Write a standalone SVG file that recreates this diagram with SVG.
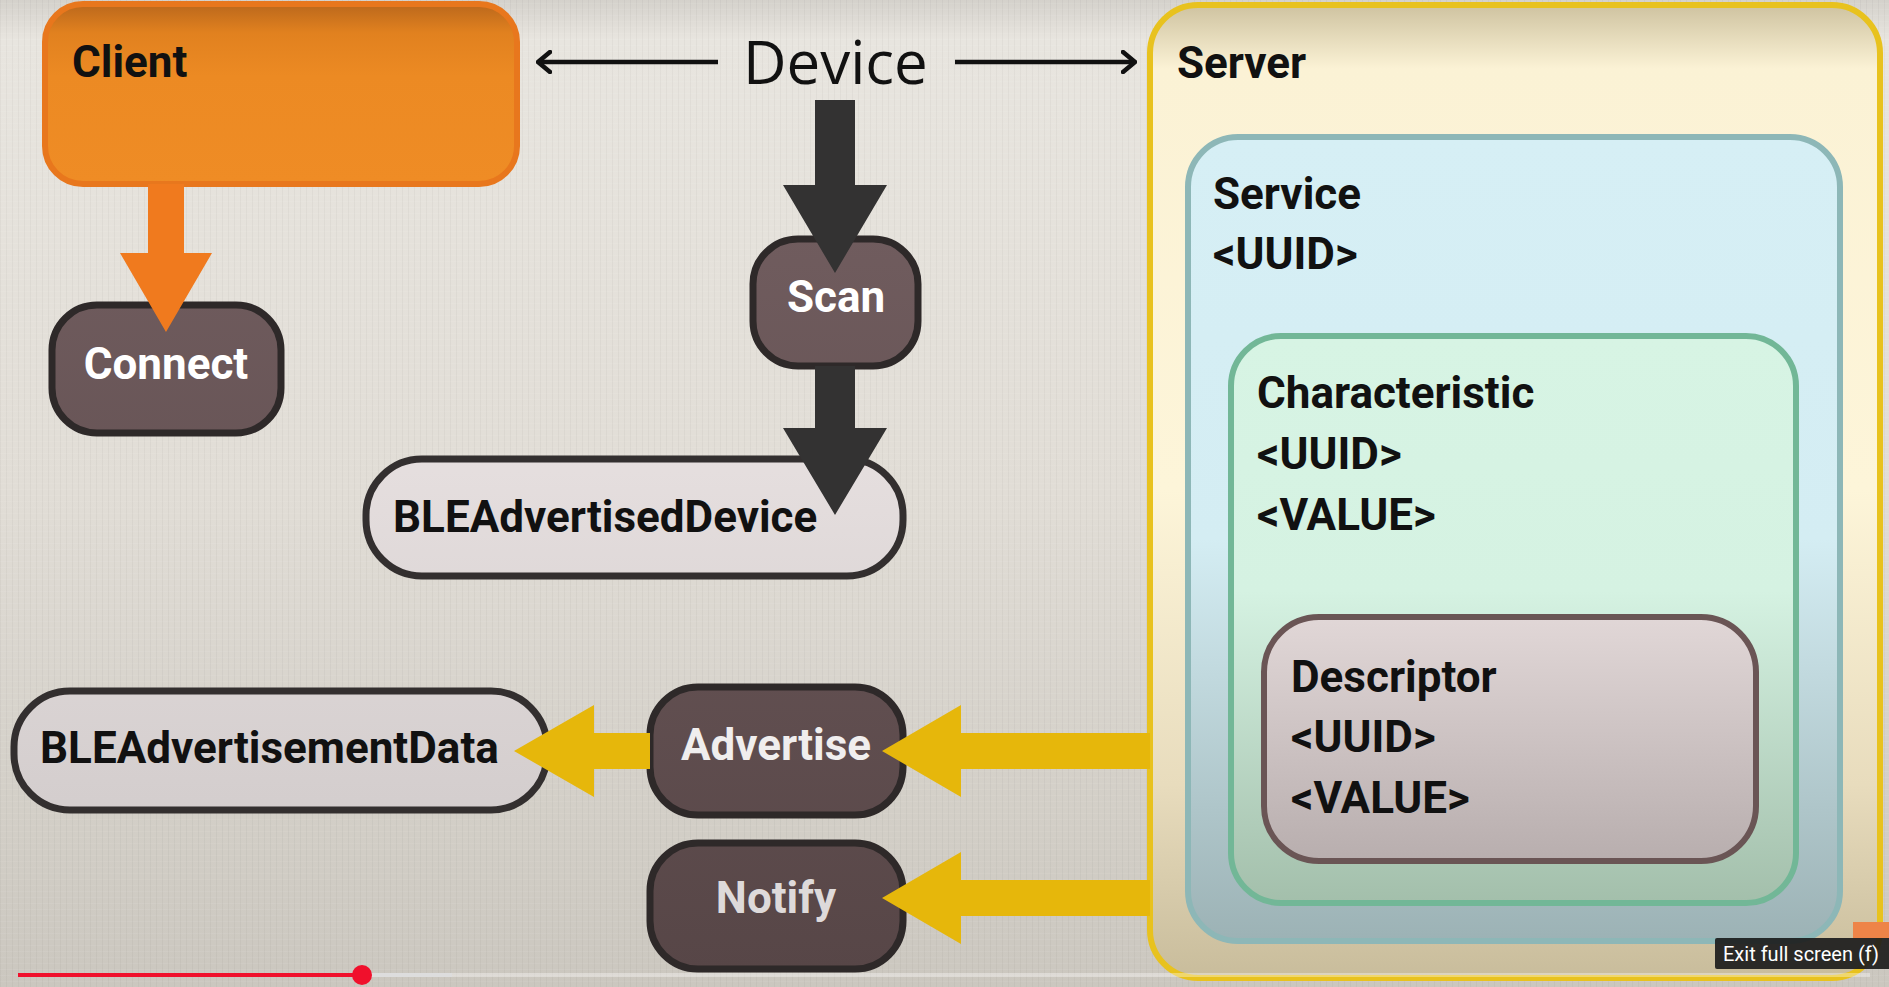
<svg xmlns="http://www.w3.org/2000/svg" width="1889" height="987" viewBox="0 0 1889 987">
<defs>
<linearGradient id="bg" gradientUnits="userSpaceOnUse" x1="0" y1="0" x2="0" y2="987"><stop offset="0" stop-color="#d4d1cb"/><stop offset="0.04" stop-color="#e8e5df"/><stop offset="0.5" stop-color="#e1ddd6"/><stop offset="1" stop-color="#cbc7bf"/></linearGradient>
<pattern id="linen" width="6" height="6" patternUnits="userSpaceOnUse"><rect width="1" height="6" fill="#000" opacity="0.03"/><rect y="3" width="6" height="1" fill="#fff" opacity="0.06"/></pattern>
<linearGradient id="gClient" x1="0" y1="0" x2="0" y2="1"><stop offset="0" stop-color="#bb681c"/><stop offset="0.16" stop-color="#e1811f"/><stop offset="0.4" stop-color="#ec8a23"/><stop offset="1" stop-color="#ef8c25"/></linearGradient>
<linearGradient id="gServer" gradientUnits="userSpaceOnUse" x1="0" y1="0" x2="0" y2="980"><stop offset="0" stop-color="#cbbf9c"/><stop offset="0.07" stop-color="#fbf2d5"/><stop offset="0.5" stop-color="#fdf5d9"/><stop offset="0.8" stop-color="#e8dcbd"/><stop offset="1" stop-color="#c8bc9b"/></linearGradient>
<linearGradient id="gService" gradientUnits="userSpaceOnUse" x1="0" y1="137" x2="0" y2="941"><stop offset="0" stop-color="#d6eff5"/><stop offset="0.5" stop-color="#d4edf3"/><stop offset="1" stop-color="#9cb2b5"/></linearGradient>
<linearGradient id="gChar" gradientUnits="userSpaceOnUse" x1="0" y1="336" x2="0" y2="903"><stop offset="0" stop-color="#d7f4e4"/><stop offset="0.45" stop-color="#d5f2e2"/><stop offset="1" stop-color="#a3bfab"/></linearGradient>
<linearGradient id="gDesc" gradientUnits="userSpaceOnUse" x1="0" y1="617" x2="0" y2="861"><stop offset="0" stop-color="#e1d7d7"/><stop offset="1" stop-color="#b8aeae"/></linearGradient>
<linearGradient id="gDark" gradientUnits="userSpaceOnUse" x1="0" y1="230" x2="0" y2="970"><stop offset="0" stop-color="#705c5e"/><stop offset="1" stop-color="#574647"/></linearGradient>
<linearGradient id="gLight" gradientUnits="userSpaceOnUse" x1="0" y1="450" x2="0" y2="820"><stop offset="0" stop-color="#e6dfdf"/><stop offset="1" stop-color="#d3cdcd"/></linearGradient>
<marker id="chev" viewBox="0 0 16 24" markerUnits="userSpaceOnUse" markerWidth="16" markerHeight="24" refX="14" refY="12" orient="auto"><path d="M2,2 L14,12 L2,22" fill="none" stroke="#111" stroke-width="4.5" stroke-linecap="round" stroke-linejoin="round"/></marker>
</defs>
<style>
.lbl{font-family:Roboto,"Liberation Sans",sans-serif;font-weight:700;font-size:44px}
.blk{fill:#111}
.wht{fill:#fff}
.dark{fill:url(#gDark);stroke:#2e2929;stroke-width:7}
.light{fill:url(#gLight);stroke:#332f2f;stroke-width:7}
.blackArrow{fill:#333232}
.yellowArrow{fill:#e6b70b}
.thin{fill:none;stroke:#111;stroke-width:4.5;marker-end:url(#chev)}
</style>
<rect width="1889" height="987" fill="url(#bg)"/>
<rect width="1889" height="987" fill="url(#linen)"/>

<g id="server">
<rect x="1150" y="5" width="730" height="973" rx="48" fill="url(#gServer)" stroke="#e8c21e" stroke-width="6"/>
<text class="lbl blk" x="1177" y="78">Server</text>
</g>
<g id="service">
<rect x="1188" y="137" width="652" height="804" rx="50" fill="url(#gService)" stroke="#8db7b7" stroke-width="6"/>
<text class="lbl blk" x="1213" y="209">Service</text>
<text class="lbl blk" x="1213" y="269">&lt;UUID&gt;</text>
</g>
<g id="characteristic">
<rect x="1231" y="336" width="565" height="567" rx="50" fill="url(#gChar)" stroke="#72b797" stroke-width="6"/>
<text class="lbl blk" x="1257" y="408">Characteristic</text>
<text class="lbl blk" x="1257" y="469">&lt;UUID&gt;</text>
<text class="lbl blk" x="1257" y="530">&lt;VALUE&gt;</text>
</g>
<g id="descriptor">
<rect x="1264" y="617" width="492" height="244" rx="55" fill="url(#gDesc)" stroke="#6a5555" stroke-width="6"/>
<text class="lbl blk" x="1291" y="692">Descriptor</text>
<text class="lbl blk" x="1291" y="752">&lt;UUID&gt;</text>
<text class="lbl blk" x="1291" y="813">&lt;VALUE&gt;</text>
</g>

<g id="client">
<rect x="45" y="4" width="472" height="180" rx="38" fill="url(#gClient)" stroke="#e8771d" stroke-width="6"/>
<text class="lbl blk" x="72" y="77">Client</text>
</g>
<g id="device">
<text x="743" y="84" font-family="'Open Sans','Noto Sans',sans-serif" font-size="60" fill="#111">Device</text>
</g>
<g id="connect">
<rect x="52" y="305" width="229" height="128" rx="45" class="dark"/>
<text class="lbl wht" x="166" y="379" text-anchor="middle">Connect</text>
</g>
<g id="scan">
<rect x="753" y="239" width="165" height="127" rx="45" class="dark"/>
<text class="lbl wht" x="836" y="312" text-anchor="middle">Scan</text>
</g>
<g id="bleAdvertisedDevice">
<rect x="366" y="459" width="537" height="117" rx="56" class="light"/>
<text class="lbl blk" x="393" y="532">BLEAdvertisedDevice</text>
</g>
<g id="bleAdvertisementData">
<rect x="14" y="691" width="533" height="119" rx="56" class="light"/>
<text class="lbl blk" x="40" y="763">BLEAdvertisementData</text>
</g>
<g id="advertise">
<rect x="650" y="687" width="253" height="128" rx="48" class="dark"/>
<text class="lbl" x="776" y="760" text-anchor="middle" fill="#f0eeee">Advertise</text>
</g>
<g id="notify">
<rect x="650" y="843" width="253" height="126" rx="48" class="dark"/>
<text class="lbl" x="776" y="913" text-anchor="middle" fill="#dedada">Notify</text>
</g>

<g id="connectors">
<path class="thin" d="M718,62 L538,62"/>
<path class="thin" d="M955,62 L1135,62"/>
<polygon fill="#f07a1e" points="148,184 184,184 184,253 212,253 166,332 120,253 148,253"/>
<polygon class="blackArrow" points="815,100 855,100 855,185 887,185 835,273 783,185 815,185"/>
<polygon class="blackArrow" points="815,366 855,366 855,428 887,428 835,515 783,428 815,428"/>
<polygon class="yellowArrow" points="1150,733 961,733 961,705 882,751 961,797 961,769 1150,769"/>
<polygon class="yellowArrow" points="650,733 594,733 594,705 514,751 594,797 594,769 650,769"/>
<polygon class="yellowArrow" points="1150,880 961,880 961,852 882,898 961,944 961,916 1150,916"/>
</g>

<g id="player-ui">
<rect x="18" y="973" width="1852" height="4" fill="#ffffff" opacity="0.35"/>
<rect x="362" y="973" width="90" height="4" fill="#dddddd"/>
<rect x="18" y="973" width="344" height="4" fill="#f0102c"/>
<circle cx="362" cy="975" r="10" fill="#f0102c"/>
<rect x="1853" y="922" width="36" height="16" fill="#ee8448"/>
<rect x="1715" y="938" width="180" height="31" rx="2" fill="#1c1c1c" opacity="0.92"/>
<text x="1723" y="961" font-family="Roboto,'Liberation Sans',sans-serif" font-size="20" fill="#ffffff">Exit full screen (f)</text>
</g>
</svg>
